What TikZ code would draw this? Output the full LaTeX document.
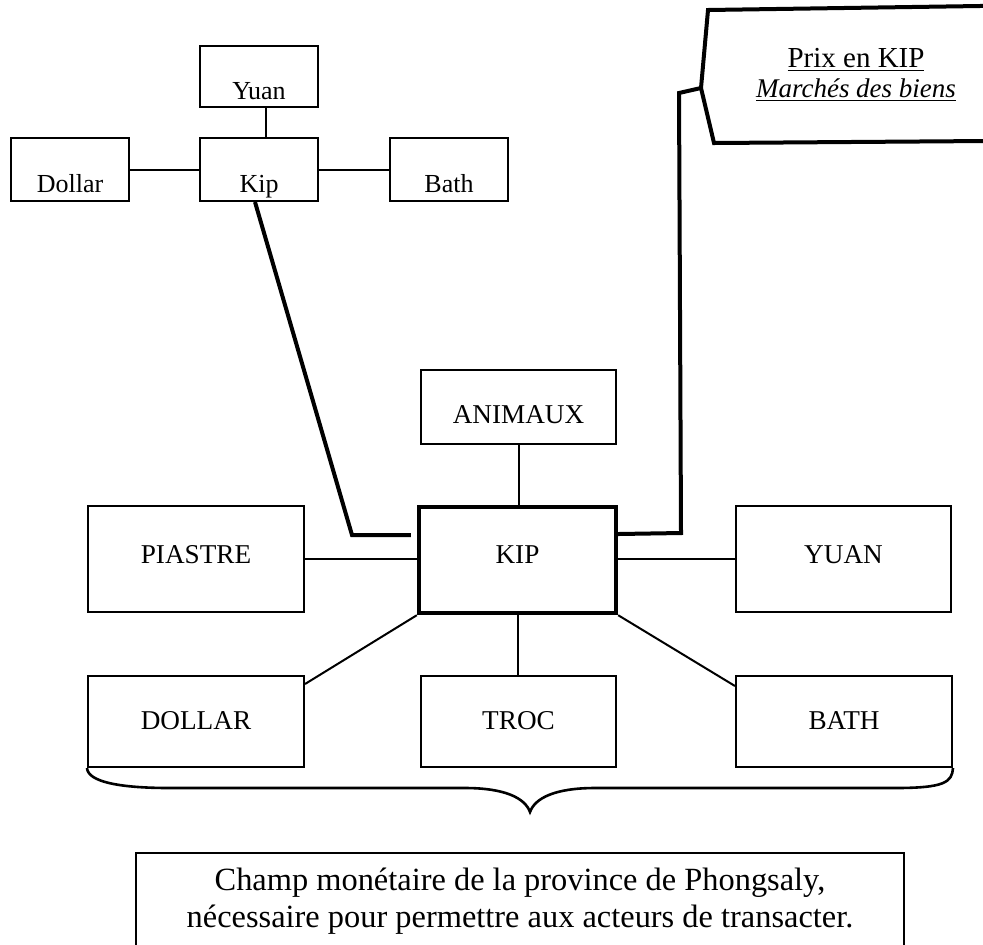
\documentclass[tikz,border=0pt]{standalone}
\usepackage{fontspec}
\setmainfont{Liberation Serif}
\begin{document}
\begin{tikzpicture}[x=0.5pt,y=-0.5pt,
  box/.style={draw, line width=1pt, inner sep=0pt, text depth=0pt, font=\fontsize{13}{15}\selectfont},
  bigbox/.style={box, font=\fontsize{13.6}{16}\selectfont},
  conn/.style={line width=1pt},
  heavy/.style={line width=2pt, line join=miter},
  bracestyle/.style={line width=1.3pt}]
\useasboundingbox (0,0) rectangle (983,944);

% small cluster
\node[box, minimum width=59pt, minimum height=30.5pt, text height=22.5pt] (yuanS) at (259,76.5) {Yuan};
\node[box, minimum width=59pt, minimum height=31.5pt, text height=22.5pt] (kipS) at (259,169.5) {Kip};
\node[box, minimum width=59pt, minimum height=31.5pt, text height=22.5pt] (dollarS) at (70,169.5) {Dollar};
\node[box, minimum width=59pt, minimum height=31.5pt, text height=22.5pt] (bathS) at (449,169.5) {Bath};

\draw[conn] ([xshift=3.5pt]yuanS.south) -- ([xshift=3.5pt]kipS.north);
\draw[conn] (dollarS.east) -- (kipS.west);
\draw[conn] (kipS.east) -- (bathS.west);

% main cluster
\node[bigbox, minimum width=108pt, minimum height=53pt, text height=4pt] (piastre) at (196,559) {PIASTRE};
\node[bigbox, line width=2.2pt, minimum width=98.5pt, minimum height=53pt, text height=3pt] (kip) at (517.5,560) {KIP};
\node[bigbox, minimum width=107.5pt, minimum height=53pt, text height=4pt] (yuan) at (843.5,559) {YUAN};
\node[bigbox, minimum width=97.5pt, minimum height=37pt, text height=16pt] (animaux) at (518.5,407) {ANIMAUX};
\node[bigbox, minimum width=108pt, minimum height=45.5pt, text height=7.5pt] (dollar) at (196,721.5) {DOLLAR};
\node[bigbox, minimum width=97.5pt, minimum height=45.5pt, text height=7.5pt] (troc) at (518.5,721.5) {TROC};
\node[bigbox, minimum width=108pt, minimum height=45.5pt, text height=7.5pt] (bath) at (844,721.5) {BATH};

\draw[conn] (piastre.east) -- (piastre.east -| kip.west);
\draw[conn] (yuan.west -| kip.east) -- (yuan.west);
\draw[conn] (animaux.south) -- (animaux.south |- kip.north);
\draw[conn] (kip.south) -- (kip.south |- troc.north);
\draw[conn] (kip.south west) -- ([yshift=-4.5pt]dollar.north east);
\draw[conn] (kip.south east) -- ([yshift=-5.5pt]bath.north west);

% heavy link from small Kip to KIP
\coordinate (ka) at (352,535);
\draw[heavy] ([xshift=-2pt]kipS.south) -- (ka) -- ([xshift=-3pt]ka -| kip.west);

% callout
\coordinate (cp) at (701,88);
\draw[heavy] ([yshift=13pt]kip.east) -- (681,533) -- (679,93) -- (cp);
\draw[heavy] (708,10) -- (1000,5.7) -- (1000,140.9) -- (714,143) -- (cp) -- cycle;
\node[font=\fontsize{14.5}{16}\selectfont, anchor=base, inner sep=0pt] (prix) at (856,67) {\underline{Prix en KIP}};
\node[font=\fontsize{13.5}{16}\selectfont\itshape, anchor=base, inner sep=0pt] (marche) at (856,97) {\underline{Marchés des biens}};

% brace
\draw[bracestyle] (dollar.south west) .. controls (88,782) and (120,788) .. (170,788)
  -- (465,788) .. controls (505,788) and (525,798) .. (530,812) coordinate (tip)
  .. controls (535,798) and (555,788) .. (595,788)
  -- (895,788) .. controls (945,788) and (952,782) .. (bath.south east);

% bottom box
\node[draw, line width=1pt, minimum width=384pt, minimum height=60pt, anchor=north, inner sep=0pt] (champbox) at (520,852) {};
\node[font=\fontsize{16.2}{18.5}\selectfont, align=center, anchor=north, inner sep=0pt] (champ) at (520,868)
  {Champ monétaire de la province de Phongsaly,\\ nécessaire pour permettre aux acteurs de transacter.};
\end{tikzpicture}
\end{document}
